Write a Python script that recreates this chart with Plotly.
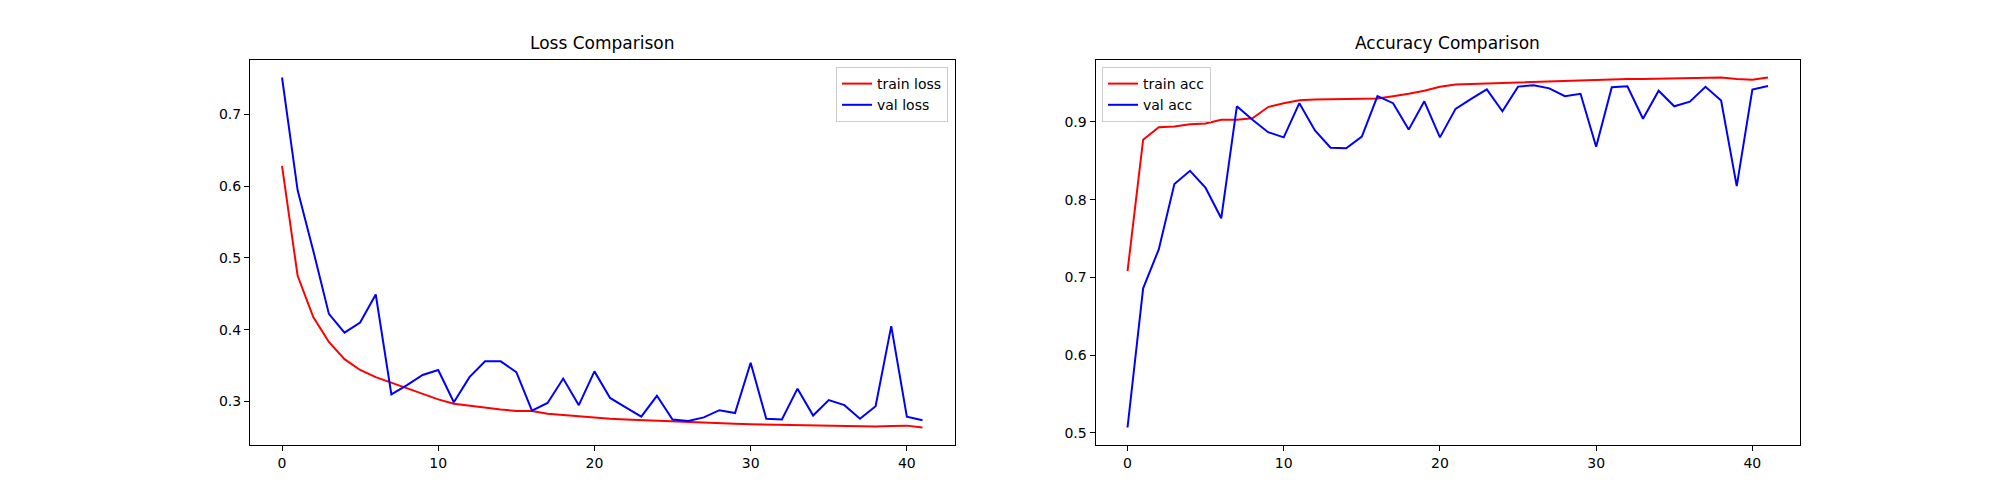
import plotly.graph_objects as go

epochs = list(range(42))

train_loss = [0.628, 0.475, 0.4175, 0.383, 0.359, 0.344, 0.334, 0.326, 0.318, 0.310,
              0.303, 0.297, 0.294, 0.291, 0.289, 0.287, 0.287, 0.283, 0.281, 0.279,
              0.278, 0.276, 0.275, 0.274, 0.273, 0.272, 0.271, 0.270, 0.270, 0.269,
              0.2685, 0.268, 0.2675, 0.2675, 0.267, 0.2667, 0.266, 0.2655, 0.2653, 0.266,
              0.2665, 0.2639]
val_loss = [0.751, 0.594, 0.510, 0.422, 0.396, 0.410, 0.449, 0.310, 0.323, 0.337,
            0.344, 0.299, 0.334, 0.356, 0.356, 0.341, 0.2875, 0.298, 0.332, 0.295,
            0.342, 0.305, 0.292, 0.279, 0.308, 0.275, 0.273, 0.278, 0.288, 0.284,
            0.354, 0.276, 0.275, 0.318, 0.2805, 0.302, 0.295, 0.276, 0.2935, 0.405,
            0.279, 0.274]
train_acc = [0.708, 0.877, 0.893, 0.894, 0.897, 0.898, 0.9026, 0.9026, 0.9046, 0.919,
             0.924, 0.9277, 0.9286, 0.929, 0.929, 0.930, 0.930, 0.933, 0.936, 0.940,
             0.945, 0.948, 0.9487, 0.9496, 0.9504, 0.951, 0.9513, 0.952, 0.953, 0.9534,
             0.9542, 0.9546, 0.955, 0.955, 0.9555, 0.956, 0.9563, 0.9568, 0.957, 0.955,
             0.9542, 0.957]
val_acc = [0.507, 0.686, 0.736, 0.820, 0.837, 0.815, 0.776, 0.920, 0.9026, 0.8867,
           0.880, 0.924, 0.889, 0.8667, 0.866, 0.881, 0.933, 0.924, 0.890, 0.9264,
           0.880, 0.9167, 0.9295, 0.9418, 0.9136, 0.9453, 0.947, 0.943, 0.933, 0.936,
           0.868, 0.9444, 0.9457, 0.904, 0.940, 0.920, 0.926, 0.945, 0.9273, 0.8174,
           0.9414, 0.946]

titles = ["Loss Comparison", "Accuracy Comparison"]
x_ticks = [0, 10, 20, 30, 40]
loss_ticks = [0.3, 0.4, 0.5, 0.6, 0.7]
acc_ticks = [0.5, 0.6, 0.7, 0.8, 0.9]

FONT = "DejaVu Sans"
W, H = 2000, 500
OFF = 8  # page body margin offset in px

fig = go.Figure()

fig.add_trace(go.Scatter(x=epochs, y=train_loss, mode="lines", name="train loss",
                         line=dict(color="red", width=2), xaxis="x", yaxis="y", legend="legend"))
fig.add_trace(go.Scatter(x=epochs, y=val_loss, mode="lines", name="val loss",
                         line=dict(color="blue", width=2), xaxis="x", yaxis="y", legend="legend"))
fig.add_trace(go.Scatter(x=epochs, y=train_acc, mode="lines", name="train acc",
                         line=dict(color="red", width=2), xaxis="x2", yaxis="y2", legend="legend2"))
fig.add_trace(go.Scatter(x=epochs, y=val_acc, mode="lines", name="val acc",
                         line=dict(color="blue", width=2), xaxis="x2", yaxis="y2", legend="legend2"))


def lims(vals):
    lo, hi = min(vals), max(vals)
    m = (hi - lo) * 0.05
    return [lo - m, hi + m]


def px_x(p):
    return (p - OFF) / W


def px_y(p):
    return 1 - (p - OFF) / H


xr = [-0.05 * 41, 41 * 1.05]
axis_common = dict(showline=True, linecolor="black", linewidth=1, mirror=True,
                   ticks="outside", ticklen=5, tickwidth=1, tickcolor="black",
                   showgrid=False, zeroline=False,
                   tickfont=dict(family=FONT, size=14, color="black"))

d1 = [px_x(250), px_x(954.5)]
d2 = [px_x(1095.5), px_x(1800)]
ydom = [px_y(445), px_y(60)]

fig.update_layout(
    width=W, height=H,
    margin=dict(l=0, r=0, t=0, b=0),
    paper_bgcolor="white", plot_bgcolor="white",
    font=dict(family=FONT, size=14, color="black"),
    xaxis=dict(domain=d1, range=xr, tickvals=x_ticks, anchor="y", **axis_common),
    yaxis=dict(domain=ydom, range=lims(train_loss + val_loss), tickvals=loss_ticks,
               tickformat=".1f", anchor="x", **axis_common),
    xaxis2=dict(domain=d2, range=xr, tickvals=x_ticks, anchor="y2", **axis_common),
    yaxis2=dict(domain=ydom, range=lims(train_acc + val_acc), tickvals=acc_ticks,
                tickformat=".1f", anchor="x2", **axis_common),
    legend=dict(x=px_x(948), y=px_y(67), xanchor="right", yanchor="top",
                bgcolor="rgba(255,255,255,0.8)", bordercolor="#cccccc", borderwidth=1,
                font=dict(family=FONT, size=14), tracegroupgap=0),
    legend2=dict(x=px_x(1102), y=px_y(67), xanchor="left", yanchor="top",
                 bgcolor="rgba(255,255,255,0.8)", bordercolor="#cccccc", borderwidth=1,
                 font=dict(family=FONT, size=14), tracegroupgap=0),
    showlegend=True,
)

for dom, t in zip([d1, d2], titles):
    fig.add_annotation(text=t, x=(dom[0] + dom[1]) / 2, y=ydom[1], xref="paper", yref="paper",
                       xanchor="center", yanchor="bottom", yshift=5, showarrow=False,
                       font=dict(family=FONT, size=17, color="black"))

fig.write_html("out.html")
